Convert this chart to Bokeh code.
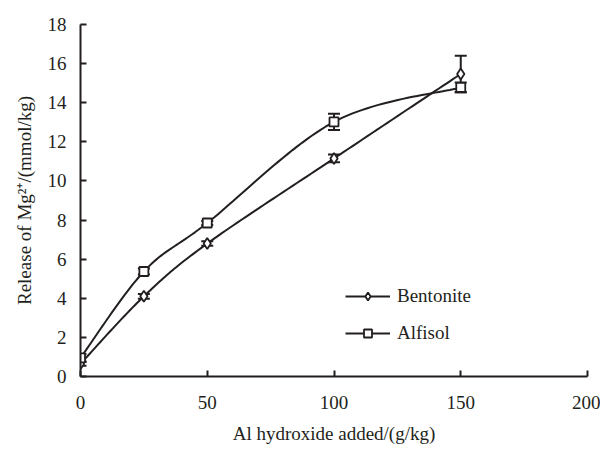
import numpy as np
from bokeh.plotting import figure
from bokeh.models import Range1d, Whisker, ColumnDataSource, Legend, LegendItem, FixedTicker, TeeHead
from bokeh.embed import file_html
from bokeh.resources import INLINE

# ---- data ----
x_added = [0, 25, 50, 100, 150]
bentonite = [0.65, 4.1, 6.8, 11.15, 15.47]
bentonite_err = [0.1, 0.12, 0.12, 0.2, 0.93]
alfisol = [0.95, 5.37, 7.85, 13.02, 14.78]
alfisol_err = [0.2, 0.15, 0.1, 0.42, 0.25]

x_ticks = [0, 50, 100, 150, 200]
y_ticks = [0, 2, 4, 6, 8, 10, 12, 14, 16, 18]

INK = "#231f20"
FONT = "Liberation Serif"


def smooth(xs, ys, n=30):
    """Excel-like smoothed line through the data points (cubic Bezier)."""
    xs = np.asarray(xs, float)
    ys = np.asarray(ys, float)
    sx, sy = 507.0 / 200.0, 352.0 / 18.0
    P = np.column_stack([xs * sx, ys * sy])
    out = [P[0]]
    m = len(P)
    for i in range(m - 1):
        p0 = P[i - 1] if i > 0 else P[i]
        p1 = P[i]
        p2 = P[i + 1]
        p3 = P[i + 2] if i + 2 < m else P[i + 1]
        c1 = p1 + (p2 - p0) / 6.0
        c2 = p2 - (p3 - p1) / 6.0
        t = np.linspace(0, 1, n)[1:, None]
        seg = ((1 - t) ** 3) * p1 + 3 * ((1 - t) ** 2) * t * c1 + 3 * (1 - t) * t ** 2 * c2 + t ** 3 * p2
        out.extend(seg)
    out = np.array(out)
    return out[:, 0] / sx, out[:, 1] / sy


p = figure(width=600, height=450, output_backend="svg", toolbar_location=None,
           x_range=Range1d(0, 200), y_range=Range1d(0, 18),
           min_border_left=80, min_border_right=13, min_border_top=24, min_border_bottom=74)
p.outline_line_color = None
p.xgrid.visible = False
p.ygrid.visible = False
p.background_fill_color = "white"
p.border_fill_color = "white"

for ax in (p.xaxis[0], p.yaxis[0]):
    ax.axis_line_color = INK
    ax.axis_line_width = 2
    ax.major_tick_line_color = INK
    ax.major_tick_line_width = 2
    ax.major_tick_in = 6
    ax.major_tick_out = 0
    ax.minor_tick_line_color = None
    ax.major_label_text_font = FONT
    ax.major_label_text_font_size = "19px"
    ax.major_label_text_color = INK
    ax.axis_label_text_font = FONT
    ax.axis_label_text_font_size = "19px"
    ax.axis_label_text_font_style = "normal"
    ax.axis_label_text_color = INK

p.xaxis.ticker = FixedTicker(ticks=x_ticks)
p.yaxis.ticker = FixedTicker(ticks=y_ticks)
p.xaxis.major_label_standoff = 19
p.yaxis.major_label_standoff = 14
p.xaxis.axis_label = "Al hydroxide added/(g/kg)"
p.yaxis.axis_label = "Release of Mg\u00b2\u207a/(mmol/kg)"
p.xaxis.axis_label_standoff = 11
p.yaxis.axis_label_standoff = 10

items = []
for name, ys, err, marker in [("Bentonite", bentonite, bentonite_err, "diamond"),
                              ("Alfisol", alfisol, alfisol_err, "square")]:
    sx, sy = smooth(x_added, ys)
    ln = p.line(sx, sy, line_color=INK, line_width=2)
    src = ColumnDataSource(dict(x=x_added, y=ys,
                                lo=[a - b for a, b in zip(ys, err)],
                                hi=[a + b for a, b in zip(ys, err)]))
    w = Whisker(base="x", upper="hi", lower="lo", source=src, line_color=INK, line_width=2,
                upper_head=TeeHead(size=12, line_color=INK, line_width=2),
                lower_head=TeeHead(size=12, line_color=INK, line_width=2))
    p.add_layout(w)
    sc = p.scatter("x", "y", source=src, marker=marker, size=11 if marker == "diamond" else 9,
                   fill_color="white", line_color=INK, line_width=1.8)
    items.append(LegendItem(label=name, renderers=[ln, sc]))

legend = Legend(items=items, location=(265, 32), border_line_color=None,
                background_fill_alpha=0, margin=0, padding=0, spacing=15,
                glyph_width=45, glyph_height=20, label_height=20, label_standoff=7,
                label_text_font=FONT, label_text_font_size="19px", label_text_color=INK)
p.add_layout(legend)

open("out.html", "w").write(file_html(p, INLINE))
